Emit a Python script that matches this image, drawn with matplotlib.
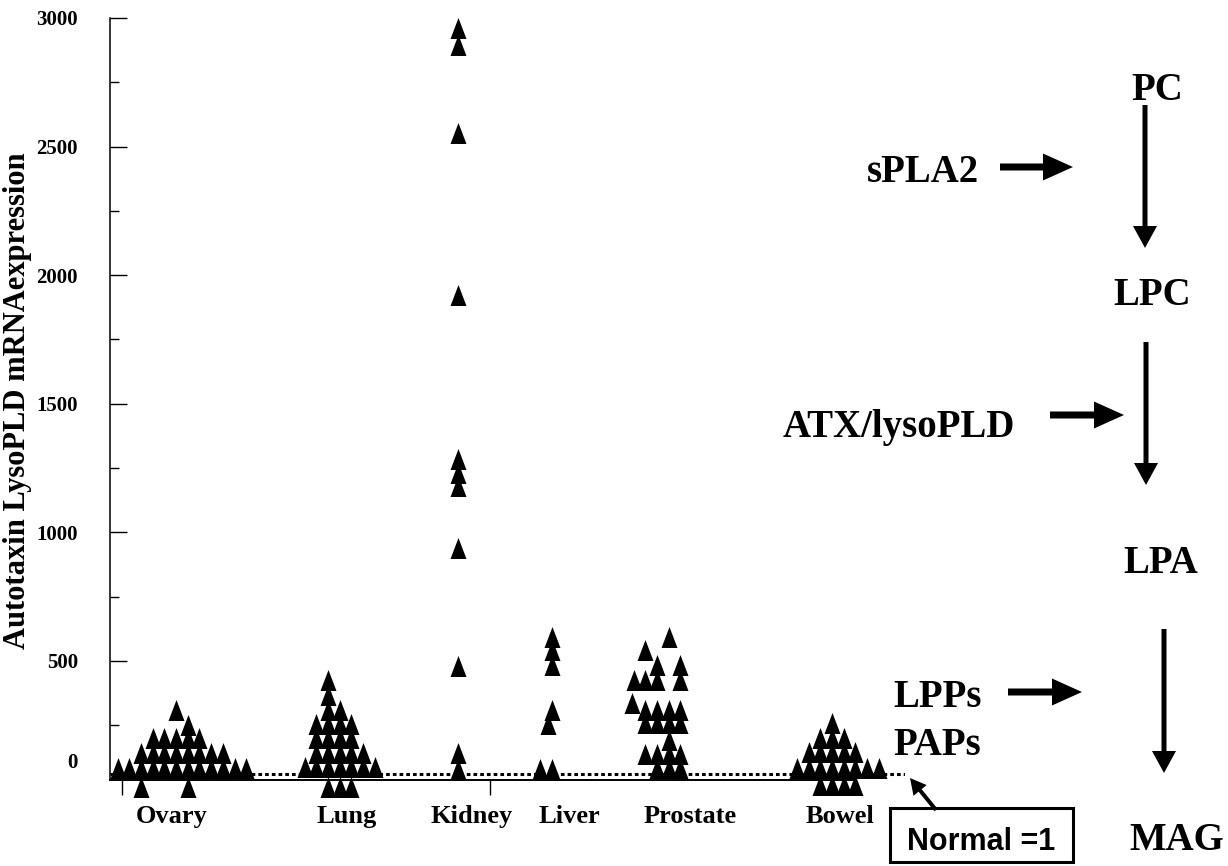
import matplotlib.pyplot as plt
from matplotlib.path import Path
from matplotlib.patches import FancyArrow, Rectangle

# fold change of autotaxin / lysoPLD mRNA per tumour sample
tissues = ['Ovary', 'Lung', 'Kidney', 'Liver', 'Prostate', 'Bowel']

ovary_vals = [84, 84, 84, 84, 84, 84, 84, 84, 84, 84, 84, 84,
              142, 142, 142, 142, 142, 142, 142, 142,
              201, 201, 201, 201, 201,
              251, 310, 10, 10]
ovary_cols = [-5, -4, -3, -2, -1, 0, 1, 2, 3, 4, 5, 6,
              -3, -2, -1, 0, 1, 2, 3, 4,
              -2, -1, 0, 1, 2,
              1, 0, -3, 1]

lung_vals = [424, 368, 311, 255, 199, 142, 86, 10,
             255, 199, 142, 86,
             311, 255, 199, 142, 86, 10,
             255, 199, 142, 86, 10,
             142, 86, 86, 86]
lung_cols = [0, 0, 0, 0, 0, 0, 0, 0,
             -1, -1, -1, -1,
             1, 1, 1, 1, 1, 1,
             2, 2, 2, 2, 2,
             3, 3, -2, 4]

kidney_vals = [2961, 2895, 2553, 1923, 1285, 1231, 1180, 939, 481, 143, 81]
kidney_cols = [0, 0, 0, 0, 0, 0, 0, 0, 0, 0, 0]

liver_vals = [593, 542, 484, 310, 255, 81, 81]
liver_cols = [0, 0, 0, 0, -0.35, -1, 0]

prostate_vals = [593, 542, 484, 484, 426, 426, 426, 426, 337,
                 310, 310, 310, 310, 259, 259, 259, 259, 193,
                 138, 138, 138, 138, 84, 84, 84]
prostate_cols = [1, -1, 0, 2, -2, -1, 0, 2, -2.1,
                 -1, 0, 1, 2, -1, 0, 1, 2, 1,
                 -1, 0, 1, 2, 0, 1, 2]

bowel_vals = [259, 201, 201, 201, 146, 146, 146, 146, 146,
              84, 84, 84, 84, 84, 84, 84, 84, 18, 18, 18, 18]
bowel_cols = [0, -1, 0, 1, -2, -1, 0, 1, 2,
              -3, -2, -1, 0, 1, 2, 3, 4, -1, 0, 1, 2]

normal_level = 61

all_vals = [ovary_vals, lung_vals, kidney_vals, liver_vals, prostate_vals, bowel_vals]
all_cols = [ovary_cols, lung_cols, kidney_cols, liver_cols, prostate_cols, bowel_cols]

# layout
centers = [66, 218, 348, 442, 547, 722]
label_pos = [62, 237, 362, 459, 580, 730]
slot = 11.7

serif = 'Liberation Serif'

fig = plt.figure(figsize=(12.28, 8.66), dpi=100)
ax = fig.add_axes([110 / 1228, 86 / 866, 795 / 1228, 762 / 866])
ax.set_xlim(0, 795)
ax.set_ylim(37, 3000)

tri = Path([(-8, -10.5), (8, -10.5), (0, 10.5), (-8, -10.5)],
           [Path.MOVETO, Path.LINETO, Path.LINETO, Path.CLOSEPOLY])

for c, vals, cols in zip(centers, all_vals, all_cols):
    xs = [c + k * slot for k in cols]
    ax.scatter(xs, vals, marker=tri, s=15.1 ** 2, c='k', linewidths=0,
               clip_on=False, zorder=3)

ax.axhline(normal_level, color='k', lw=2.2, ls=(0, (1.2, 1.0)), zorder=1)

for s in ['top', 'right']:
    ax.spines[s].set_visible(False)
ax.spines['left'].set_linewidth(1.1)
ax.spines['bottom'].set_linewidth(1.4)
ax.spines['bottom'].set_bounds(0, 745)

ax.set_yticks([500, 1000, 1500, 2000, 2500, 3000])
ax.set_yticks([250, 750, 1250, 1750, 2250, 2750], minor=True)
ax.tick_params(axis='y', which='major', direction='in', length=12, width=1, pad=23)
ax.tick_params(axis='y', which='minor', direction='in', length=6.5, width=1)
for t in ax.get_yticklabels():
    t.set_family(serif)
    t.set_fontweight('bold')
    t.set_fontsize(15)
ax.annotate('0', xy=(0, 103), xycoords=('axes fraction', 'data'), xytext=(-23, 0),
            textcoords='offset points', ha='right', va='center',
            family=serif, fontweight='bold', fontsize=15)

ax.set_xticks(label_pos, tissues)
ax.set_xticks([12, 380], minor=True)
ax.tick_params(axis='x', which='major', length=0, pad=18)
ax.tick_params(axis='x', which='minor', direction='out', length=11, width=1)
for t in ax.get_xticklabels():
    t.set_family(serif)
    t.set_fontweight('bold')
    t.set_fontsize(19)

# overlay in pixel coordinates for the pathway scheme
ov = fig.add_axes([0, 0, 1, 1])
ov.set_xlim(0, 1228)
ov.set_ylim(866, 0)
ov.axis('off')

fig.text(18 / 1228, 1 - 401 / 866, 'Autotaxin LysoPLD mRNAexpression', rotation=90,
         ha='center', va='center', family=serif, fontweight='bold', fontsize=22)

big = dict(family=serif, fontweight='bold', fontsize=28, va='baseline')
ov.text(1157, 100, 'PC', ha='center', **big)
ov.text(1152, 305, 'LPC', ha='center', **big)
ov.text(1161, 573, 'LPA', ha='center', **big)
ov.text(1177, 850, 'MAG', ha='center', **big)
ov.text(867, 182, 'sPLA2', ha='left', **big)
ov.text(783, 437, 'ATX/lysoPLD', ha='left', **big)
ov.text(893, 707, 'LPPs', ha='left', **big)
ov.text(893, 755, 'PAPs', ha='left', **big)

def harrow(x0, x1, y):
    ov.add_patch(FancyArrow(x0, y, x1 - x0, 0, width=7, head_width=27, head_length=30,
                            length_includes_head=True, color='k', lw=0))

def varrow(x, y0, y1):
    ov.add_patch(FancyArrow(x, y0, 0, y1 - y0, width=5, head_width=24, head_length=22,
                            length_includes_head=True, color='k', lw=0))

harrow(1000, 1073, 167)
harrow(1050, 1124, 415)
harrow(1008, 1082, 692)
varrow(1145, 105, 248)
varrow(1146, 342, 485)
varrow(1164, 629, 773)

ov.add_patch(Rectangle((890, 808), 183, 54, fill=False, lw=2.2, ec='k'))
ov.text(981, 850, 'Normal =1', ha='center', va='baseline', family='Liberation Sans',
        fontweight='bold', fontsize=22)
ov.add_patch(FancyArrow(936, 810, -26, -32, width=4, head_width=17, head_length=16,
                        length_includes_head=True, color='k', lw=0))

fig.savefig('out.png', dpi=100)
